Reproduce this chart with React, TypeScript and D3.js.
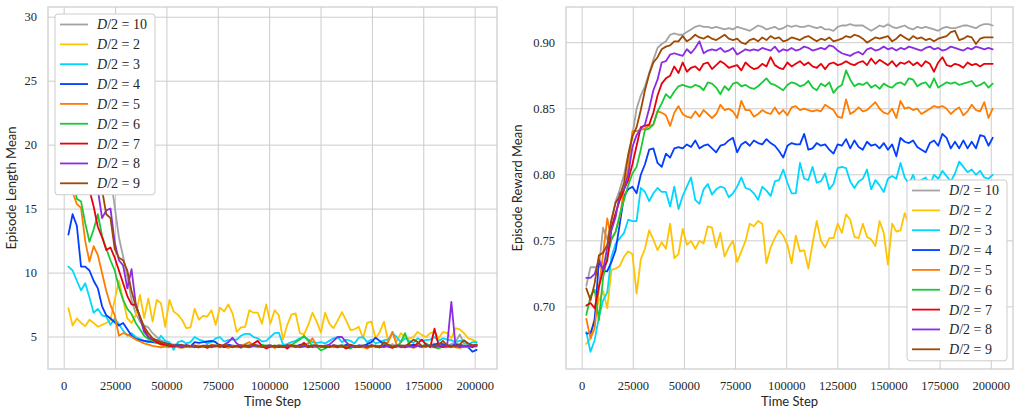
import React from 'react';
import * as d3 from 'd3';

// ---------------------------------------------------------------------------
// Data — two panels, nine series (D/2 = 10, 2..9), one point every 2048 steps
// ---------------------------------------------------------------------------

const legendLabels = ['10', '2', '3', '4', '5', '6', '7', '8', '9'];
const seriesColors = ['#a3a3a3', '#ffc400', '#00d7ff', '#023eff', '#ff7c00', '#1ac938', '#e8000b', '#8b2be2', '#9f4800'];

const timeSteps = d3.range(1, 99).map((k) => k * 2048);

const xTicks = [0, 25000, 50000, 75000, 100000, 125000, 150000, 175000, 200000];
const lengthTicks = [5, 10, 15, 20, 25, 30];
const rewardTicks = [0.7, 0.75, 0.8, 0.85, 0.9];

// Episode Length Mean
const lengthD10 = [
  29.5, 28.8, 28.0, 27.1, 26.0, 24.8, 23.5, 22.1, 20.6, 19.2,
  17.6, 15.2, 12.8, 11.3, 9.7, 7.9, 6.85, 6.2, 5.9, 5.75,
  5.3, 5.0, 4.75, 4.6, 4.5, 4.4, 4.45, 4.3, 4.35, 4.25,
  4.3, 4.2, 4.35, 4.25, 4.3, 4.4, 4.2, 4.3, 4.25, 4.35,
  4.3, 4.15, 4.3, 4.4, 4.25, 4.3, 4.2, 4.35, 4.3, 4.25,
  4.4, 4.3, 4.2, 4.3, 4.35, 4.25, 4.3, 4.2, 4.4, 4.3,
  4.25, 4.35, 4.2, 4.3, 4.3, 4.4, 4.25, 4.3, 4.2, 4.35,
  4.3, 4.25, 4.4, 4.3, 4.2, 4.35, 4.3, 4.45, 4.25, 4.3,
  4.35, 4.2, 4.3, 4.4, 4.3, 4.25, 4.35, 4.5, 4.3, 4.4,
  4.3, 4.45, 4.6, 5.2, 4.5, 4.4, 4.35, 4.4,
];
const lengthD2 = [
  7.25, 5.9, 6.45, 6.1, 5.85, 6.35, 6.1, 5.8, 5.95, 6.1,
  6.35, 7.9, 9.4, 7.9, 6.45, 6.1, 6.7, 8.3, 6.5, 8.0,
  6.2, 7.9, 7.65, 5.8, 7.9, 7.0, 6.75, 6.35, 5.7, 5.75,
  7.2, 6.35, 6.65, 6.6, 7.1, 5.95, 7.3, 7.0, 7.55, 6.85,
  5.4, 5.75, 5.8, 7.1, 6.9, 6.9, 6.05, 7.55, 6.05, 7.1,
  6.7, 4.8, 5.95, 6.75, 6.85, 5.3, 5.2, 5.95, 6.9, 6.2,
  5.35, 6.9, 6.05, 5.7, 6.3, 6.95, 6.3, 5.55, 5.6, 5.8,
  4.9, 6.1, 6.2, 4.9, 5.4, 6.2, 4.65, 5.4, 4.65, 5.3,
  5.0, 4.9, 5.0, 5.4, 5.15, 5.0, 5.3, 5.4, 4.9, 5.4,
  5.3, 4.9, 5.7, 5.6, 5.3, 4.9, 4.8, 4.6,
];
const lengthD3 = [
  10.5, 10.2, 9.4, 8.65, 9.2, 8.1, 6.9, 7.2, 6.7, 6.6,
  5.95, 6.45, 6.0, 5.5, 5.1, 5.3, 5.0, 4.85, 4.7, 4.6,
  4.75, 4.6, 5.1, 4.7, 4.6, 4.0, 4.6, 4.7, 4.5, 4.6,
  5.0, 4.8, 4.7, 4.5, 4.6, 4.9, 5.0, 4.65, 4.75, 4.8,
  4.8, 5.1, 5.25, 5.25, 5.0, 4.9, 4.65, 4.7, 5.0, 5.3,
  5.35, 4.4, 4.45, 4.6, 4.7, 4.9, 5.0, 4.8, 4.6, 4.55,
  4.6, 4.5, 4.7, 4.9, 5.0, 4.6, 4.8, 4.7, 4.5, 4.95,
  5.0, 4.6, 4.8, 4.5, 4.6, 4.75, 4.8, 5.3, 5.0, 4.6,
  4.9, 4.7, 4.55, 4.9, 4.7, 4.75, 4.8, 5.0, 4.7, 4.9,
  4.8, 4.75, 4.6, 4.7, 4.7, 4.4, 4.6, 4.6,
];
const lengthD4 = [
  13.0, 14.6, 13.7, 10.5, 10.5, 10.2, 9.4, 8.8, 7.4, 6.7,
  6.45, 6.15, 5.9, 6.1, 5.6, 5.1, 4.85, 4.75, 4.7, 4.65,
  4.6, 4.55, 4.5, 4.5, 4.45, 4.3, 4.4, 4.3, 4.35, 4.25,
  4.6, 4.55, 4.6, 4.65, 4.7, 4.6, 4.3, 4.25, 4.4, 4.3,
  4.2, 4.35, 4.3, 4.25, 4.4, 4.3, 4.2, 4.3, 4.35, 4.25,
  4.3, 4.2, 4.35, 4.3, 4.25, 4.4, 4.3, 4.2, 4.3, 4.35,
  4.25, 4.3, 4.2, 4.35, 4.3, 4.25, 4.4, 4.3, 4.2, 4.35,
  4.3, 4.45, 4.6, 4.95, 4.7, 4.4, 4.3, 4.2, 4.35, 4.3,
  4.25, 4.3, 4.4, 4.3, 4.2, 4.35, 4.3, 4.4, 4.5, 4.45,
  4.35, 4.3, 4.45, 4.4, 4.3, 4.2, 3.85, 4.0,
];
const lengthD5 = [
  18.5, 16.3, 15.4, 15.1, 12.5, 10.9, 12.1, 11.4, 10.0, 8.6,
  7.5, 6.7, 5.1, 5.3, 5.2, 5.0, 4.8, 4.65, 4.5, 4.4,
  4.3, 4.25, 4.2, 4.25, 4.2, 4.3, 4.2, 4.15, 4.25, 4.2,
  4.3, 4.35, 4.2, 4.25, 4.4, 4.3, 4.2, 4.25, 4.15, 4.3,
  4.2, 4.3, 4.45, 4.6, 4.3, 4.2, 4.25, 4.2, 4.3, 4.15,
  4.25, 4.2, 4.3, 4.4, 4.3, 4.25, 4.4, 4.5, 4.9, 4.3,
  4.25, 4.2, 4.3, 4.2, 4.25, 4.3, 4.15, 4.2, 4.3, 4.25,
  4.2, 4.1, 4.3, 4.25, 4.2, 4.5, 4.6, 5.4, 4.4, 4.3,
  4.2, 4.25, 4.15, 4.3, 4.2, 4.25, 4.3, 4.2, 4.15, 4.25,
  4.2, 4.3, 4.2, 4.15, 4.25, 4.2, 4.3, 4.25,
];
const lengthD6 = [
  20.0, 17.5, 15.8, 15.6, 13.9, 12.45, 13.4, 14.6, 12.9, 11.9,
  11.0, 10.2, 8.9, 7.9, 7.2, 6.8, 6.1, 5.6, 5.1, 4.85,
  4.7, 4.55, 4.4, 4.35, 4.3, 4.25, 4.35, 4.2, 4.3, 4.25,
  4.2, 4.3, 4.25, 4.35, 4.2, 4.3, 4.4, 4.25, 4.3, 4.2,
  4.3, 4.25, 4.35, 4.2, 4.3, 4.25, 4.4, 4.3, 4.2, 4.35,
  4.25, 4.3, 4.2, 4.35, 4.6, 4.8, 5.1, 4.7, 4.3, 4.25,
  3.95, 4.1, 4.3, 4.25, 4.2, 4.35, 4.2, 4.1, 4.3, 4.25,
  4.2, 4.3, 4.25, 4.35, 4.2, 4.3, 4.4, 4.25, 4.2, 4.6,
  5.3, 4.4, 4.2, 4.3, 4.25, 4.5, 4.3, 4.2, 4.1, 4.3,
  4.25, 4.2, 4.3, 4.25, 4.35, 4.2, 4.3, 4.4,
];
const lengthD7 = [
  24.0, 22.5, 21.0, 19.5, 18.0, 16.5, 15.2, 13.6, 12.8, 11.8,
  12.0, 11.2, 10.2, 9.2, 8.2, 7.55, 7.5, 6.6, 5.6, 5.0,
  4.8, 4.6, 4.45, 4.4, 4.3, 4.25, 4.3, 4.2, 4.35, 4.3,
  4.25, 4.2, 4.3, 4.15, 4.3, 4.25, 4.4, 4.2, 4.3, 4.25,
  4.3, 4.2, 4.35, 4.25, 4.5, 4.7, 4.3, 4.1, 4.25, 4.3,
  4.2, 4.3, 4.1, 4.35, 4.25, 4.3, 4.55, 4.2, 4.3, 4.25,
  4.3, 4.2, 4.25, 4.35, 4.2, 4.3, 4.1, 4.25, 4.3, 4.2,
  4.3, 4.2, 4.35, 4.25, 4.2, 4.3, 4.25, 4.15, 4.3, 4.25,
  4.2, 4.35, 4.3, 4.5, 4.8, 4.4, 4.2, 5.65, 4.3, 4.2,
  4.3, 4.25, 4.35, 4.3, 4.25, 4.3, 4.2, 4.35,
];
const lengthD8 = [
  26.0, 25.0, 23.5, 22.0, 20.5, 19.0, 17.5, 16.5, 14.3, 14.9,
  15.05, 12.4, 11.0, 10.6, 8.8, 10.3, 7.6, 6.5, 5.4, 5.0,
  4.85, 4.75, 4.6, 4.5, 4.4, 4.35, 4.3, 4.25, 4.35, 4.3,
  4.25, 4.2, 4.3, 4.35, 4.2, 4.3, 4.25, 4.4, 4.6, 4.95,
  4.5, 4.3, 4.25, 4.2, 4.3, 4.35, 4.25, 4.2, 4.3, 4.25,
  4.3, 4.2, 4.35, 4.25, 4.3, 4.2, 4.25, 4.35, 4.2, 4.3,
  4.25, 4.3, 4.4, 4.7, 5.0, 5.0, 4.6, 4.3, 4.2, 4.25,
  4.3, 4.2, 4.35, 4.25, 4.3, 4.2, 4.3, 4.25, 4.35, 4.2,
  4.25, 4.3, 4.2, 4.3, 4.25, 4.35, 4.3, 4.2, 4.3, 4.35,
  4.3, 7.75, 4.3, 4.2, 4.3, 4.25, 4.35, 4.3,
];
const lengthD9 = [
  27.5, 26.5, 25.5, 24.0, 22.5, 21.0, 19.5, 18.0, 16.5, 14.6,
  14.3, 11.9, 11.2, 11.0, 10.2, 8.6, 7.4, 6.6, 5.8, 5.3,
  4.9, 4.75, 4.6, 4.5, 4.4, 4.35, 4.3, 4.4, 4.25, 4.3,
  4.35, 4.2, 4.3, 4.25, 4.35, 4.3, 4.25, 4.4, 4.3, 4.2,
  4.3, 4.35, 4.25, 4.3, 4.4, 4.3, 4.25, 4.3, 4.35, 4.2,
  4.3, 4.25, 4.35, 4.3, 4.2, 4.3, 4.4, 4.25, 4.3, 4.35,
  4.25, 4.3, 4.2, 4.35, 4.3, 4.25, 4.3, 4.4, 4.3, 4.25,
  4.35, 4.3, 4.25, 4.3, 4.2, 4.6, 4.4, 4.25, 4.3, 4.35,
  4.3, 4.5, 4.8, 4.6, 4.3, 4.25, 4.35, 4.3, 4.4, 4.7,
  4.35, 4.3, 4.25, 4.4, 4.75, 4.5, 4.35, 4.4,
];

// Episode Reward Mean
const rewardD10 = [
  0.716, 0.730, 0.730, 0.730, 0.760, 0.751, 0.765, 0.780, 0.789, 0.800,
  0.815, 0.830, 0.850, 0.860, 0.867, 0.877, 0.887, 0.896, 0.899, 0.901,
  0.906, 0.907, 0.906, 0.906, 0.908, 0.910, 0.912, 0.913, 0.912, 0.912,
  0.911, 0.912, 0.911, 0.910, 0.911, 0.910, 0.912, 0.911, 0.910, 0.909,
  0.911, 0.913, 0.912, 0.910, 0.911, 0.912, 0.910, 0.911, 0.913, 0.912,
  0.913, 0.912, 0.912, 0.913, 0.912, 0.911, 0.912, 0.910, 0.910, 0.909,
  0.912, 0.913, 0.913, 0.914, 0.913, 0.913, 0.913, 0.911, 0.909, 0.911,
  0.913, 0.912, 0.914, 0.912, 0.911, 0.912, 0.913, 0.911, 0.910, 0.912,
  0.911, 0.912, 0.911, 0.910, 0.909, 0.911, 0.912, 0.911, 0.911, 0.912,
  0.913, 0.913, 0.912, 0.911, 0.913, 0.914, 0.914, 0.913,
];
const rewardD2 = [
  0.672, 0.676, 0.693, 0.705, 0.712, 0.699, 0.728, 0.729, 0.731, 0.738,
  0.742, 0.740, 0.710, 0.736, 0.744, 0.758, 0.751, 0.743, 0.749, 0.744,
  0.763, 0.737, 0.740, 0.759, 0.747, 0.750, 0.744, 0.750, 0.748, 0.761,
  0.760, 0.745, 0.756, 0.738, 0.745, 0.750, 0.734, 0.742, 0.750, 0.763,
  0.761, 0.765, 0.763, 0.733, 0.745, 0.752, 0.758, 0.754, 0.747, 0.733,
  0.754, 0.742, 0.743, 0.729, 0.748, 0.765, 0.750, 0.745, 0.752, 0.752,
  0.763, 0.756, 0.770, 0.766, 0.753, 0.752, 0.763, 0.753, 0.751, 0.746,
  0.765, 0.756, 0.732, 0.763, 0.757, 0.758, 0.771, 0.762, 0.757, 0.764,
  0.752, 0.761, 0.756, 0.768, 0.749, 0.760, 0.753, 0.762, 0.766, 0.750,
  0.758, 0.755, 0.764, 0.751, 0.760, 0.757, 0.763, 0.759,
];
const rewardD3 = [
  0.681, 0.666, 0.675, 0.692, 0.705, 0.711, 0.738, 0.748, 0.752, 0.756,
  0.766, 0.765, 0.765, 0.790, 0.787, 0.780, 0.786, 0.790, 0.787, 0.787,
  0.776, 0.791, 0.774, 0.784, 0.791, 0.798, 0.781, 0.778, 0.789, 0.793,
  0.785, 0.789, 0.791, 0.790, 0.783, 0.786, 0.791, 0.798, 0.790, 0.789,
  0.786, 0.781, 0.791, 0.788, 0.784, 0.795, 0.796, 0.804, 0.794, 0.786,
  0.786, 0.809, 0.797, 0.796, 0.806, 0.794, 0.795, 0.801, 0.789, 0.793,
  0.805, 0.806, 0.805, 0.795, 0.790, 0.795, 0.797, 0.804, 0.789, 0.796,
  0.792, 0.787, 0.797, 0.799, 0.797, 0.809, 0.798, 0.793, 0.800, 0.791,
  0.796, 0.798, 0.792, 0.800, 0.797, 0.803, 0.799, 0.795, 0.801, 0.810,
  0.806, 0.802, 0.804, 0.800, 0.803, 0.798, 0.797, 0.800,
];
const rewardD4 = [
  0.680, 0.680, 0.690, 0.735, 0.727, 0.727, 0.734, 0.743, 0.763, 0.784,
  0.789, 0.791, 0.786, 0.800, 0.808, 0.819, 0.820, 0.809, 0.806, 0.816,
  0.813, 0.820, 0.821, 0.820, 0.823, 0.821, 0.826, 0.820, 0.822, 0.823,
  0.820, 0.817, 0.822, 0.823, 0.826, 0.828, 0.817, 0.823, 0.825, 0.822,
  0.826, 0.824, 0.823, 0.827, 0.824, 0.822, 0.818, 0.813, 0.822, 0.824,
  0.823, 0.823, 0.831, 0.819, 0.820, 0.824, 0.822, 0.823, 0.819, 0.816,
  0.823, 0.822, 0.827, 0.820, 0.826, 0.821, 0.819, 0.825, 0.822, 0.823,
  0.820, 0.824, 0.819, 0.823, 0.814, 0.828, 0.825, 0.824, 0.826, 0.821,
  0.819, 0.817, 0.824, 0.826, 0.822, 0.831, 0.828, 0.820, 0.825, 0.820,
  0.826, 0.820, 0.825, 0.820, 0.830, 0.829, 0.822, 0.828,
];
const rewardD5 = [
  0.691, 0.676, 0.684, 0.715, 0.740, 0.767, 0.751, 0.757, 0.768, 0.789,
  0.805, 0.833, 0.833, 0.834, 0.835, 0.837, 0.838, 0.848, 0.847, 0.845,
  0.837, 0.847, 0.852, 0.846, 0.844, 0.843, 0.848, 0.844, 0.849, 0.846,
  0.843, 0.846, 0.853, 0.849, 0.850, 0.848, 0.843, 0.856, 0.849, 0.849,
  0.844, 0.846, 0.849, 0.847, 0.846, 0.851, 0.846, 0.849, 0.845, 0.851,
  0.852, 0.849, 0.850, 0.849, 0.848, 0.849, 0.848, 0.853, 0.851, 0.849,
  0.844, 0.843, 0.857, 0.846, 0.848, 0.851, 0.848, 0.849, 0.852, 0.855,
  0.850, 0.847, 0.846, 0.850, 0.843, 0.856, 0.850, 0.851, 0.849, 0.850,
  0.846, 0.848, 0.850, 0.852, 0.851, 0.852, 0.850, 0.846, 0.849, 0.851,
  0.845, 0.848, 0.853, 0.849, 0.848, 0.855, 0.843, 0.850,
];
const rewardD6 = [
  0.694, 0.708, 0.713, 0.690, 0.722, 0.738, 0.751, 0.757, 0.770, 0.781,
  0.792, 0.801, 0.806, 0.819, 0.834, 0.835, 0.838, 0.848, 0.854, 0.861,
  0.858, 0.863, 0.867, 0.868, 0.867, 0.866, 0.868, 0.867, 0.864, 0.870,
  0.869, 0.866, 0.861, 0.867, 0.864, 0.869, 0.870, 0.867, 0.868, 0.866,
  0.865, 0.867, 0.870, 0.873, 0.869, 0.868, 0.866, 0.864, 0.868, 0.870,
  0.869, 0.867, 0.868, 0.871, 0.866, 0.864, 0.869, 0.867, 0.870, 0.862,
  0.866, 0.868, 0.879, 0.872, 0.867, 0.869, 0.868, 0.870, 0.866, 0.868,
  0.865, 0.869, 0.867, 0.866, 0.869, 0.870, 0.868, 0.873, 0.872, 0.867,
  0.869, 0.870, 0.866, 0.873, 0.866, 0.868, 0.870, 0.869, 0.870, 0.868,
  0.869, 0.870, 0.871, 0.867, 0.868, 0.870, 0.866, 0.869,
];
const rewardD7 = [
  0.701, 0.703, 0.699, 0.715, 0.728, 0.735, 0.760, 0.771, 0.781, 0.789,
  0.796, 0.808, 0.822, 0.836, 0.837, 0.838, 0.847, 0.860, 0.869, 0.873,
  0.875, 0.882, 0.877, 0.885, 0.878, 0.881, 0.882, 0.879, 0.884, 0.885,
  0.880, 0.883, 0.886, 0.884, 0.881, 0.882, 0.883, 0.879, 0.885, 0.882,
  0.880, 0.881, 0.884, 0.882, 0.889, 0.883, 0.881, 0.880, 0.885, 0.882,
  0.884, 0.886, 0.883, 0.885, 0.882, 0.881, 0.884, 0.880, 0.884, 0.885,
  0.883, 0.884, 0.886, 0.884, 0.883, 0.885, 0.886, 0.883, 0.888, 0.884,
  0.887, 0.885, 0.883, 0.886, 0.882, 0.885, 0.884, 0.886, 0.883, 0.885,
  0.882, 0.886, 0.884, 0.878, 0.885, 0.889, 0.883, 0.882, 0.884, 0.883,
  0.881, 0.885, 0.883, 0.884, 0.882, 0.884, 0.884, 0.884,
];
const rewardD8 = [
  0.722, 0.722, 0.725, 0.736, 0.728, 0.745, 0.758, 0.768, 0.786, 0.789,
  0.800, 0.821, 0.830, 0.835, 0.838, 0.850, 0.864, 0.872, 0.885, 0.886,
  0.891, 0.892, 0.891, 0.890, 0.895, 0.892, 0.896, 0.901, 0.892, 0.894,
  0.895, 0.894, 0.896, 0.893, 0.894, 0.896, 0.891, 0.893, 0.895, 0.894,
  0.895, 0.894, 0.896, 0.895, 0.894, 0.897, 0.893, 0.895, 0.894, 0.896,
  0.894, 0.895, 0.897, 0.896, 0.894, 0.895, 0.896, 0.895, 0.898, 0.897,
  0.894, 0.892, 0.891, 0.890, 0.892, 0.893, 0.891, 0.895, 0.896, 0.894,
  0.895, 0.897, 0.895, 0.896, 0.894, 0.896, 0.895, 0.897, 0.896, 0.895,
  0.894, 0.896, 0.897, 0.895, 0.896, 0.894, 0.895, 0.897, 0.896, 0.895,
  0.894, 0.896, 0.895, 0.897, 0.896, 0.895, 0.896, 0.895,
];
const rewardD9 = [
  0.714, 0.705, 0.718, 0.739, 0.741, 0.747, 0.766, 0.779, 0.784, 0.794,
  0.815, 0.829, 0.836, 0.849, 0.864, 0.876, 0.885, 0.889, 0.895, 0.897,
  0.898, 0.901, 0.901, 0.905, 0.901, 0.903, 0.906, 0.904, 0.903, 0.905,
  0.903, 0.902, 0.904, 0.906, 0.903, 0.902, 0.903, 0.900, 0.899, 0.902,
  0.903, 0.901, 0.904, 0.902, 0.905, 0.903, 0.904, 0.901, 0.902, 0.904,
  0.903, 0.902, 0.904, 0.905, 0.903, 0.901, 0.903, 0.902, 0.904, 0.901,
  0.902, 0.903, 0.905, 0.904, 0.906, 0.905, 0.903, 0.900, 0.902, 0.904,
  0.903, 0.904, 0.905, 0.901, 0.903, 0.906, 0.904, 0.902, 0.905, 0.903,
  0.904, 0.902, 0.903, 0.901, 0.903, 0.904, 0.905, 0.908, 0.909, 0.902,
  0.903, 0.905, 0.904, 0.899, 0.903, 0.904, 0.904, 0.904,
];

const lengthSeries = [lengthD10, lengthD2, lengthD3, lengthD4, lengthD5, lengthD6, lengthD7, lengthD8, lengthD9];
const rewardSeries = [rewardD10, rewardD2, rewardD3, rewardD4, rewardD5, rewardD6, rewardD7, rewardD8, rewardD9];

// ---------------------------------------------------------------------------

const TEXT = '#262626';
const GRID = '#cccccc';
const SERIF = "'Liberation Serif', 'DejaVu Serif', serif";
const SANS = "Lato, 'DejaVu Sans', sans-serif";

interface PanelProps {
  left: number;
  right: number;
  top: number;
  bottom: number;
  yDomain: [number, number];
  yTicks: number[];
  yFormat: (v: number) => string;
  series: number[][];
  yLabel: string;
  yLabelX: number;
  legendX: number;
  legendY: number;
}

function Panel({ left, right, top, bottom, yDomain, yTicks, yFormat, series, yLabel, yLabelX, legendX, legendY }: PanelProps) {
  const x = d3.scaleLinear().domain([-7885, 210637]).range([left, right]);
  const y = d3.scaleLinear().domain(yDomain).range([bottom, top]);
  const line = d3
    .line<number>()
    .x((_, i) => x(timeSteps[i]))
    .y((d) => y(d));

  const legendW = 100;
  const rowH = 19.85;
  const legendH = 10.5 * 2 + rowH * (legendLabels.length - 1) + 1;

  return (
    <g>
      {/* grid */}
      {xTicks.map((t) => (
        <line key={`gx${t}`} x1={x(t)} x2={x(t)} y1={top} y2={bottom} stroke={GRID} strokeWidth={1} />
      ))}
      {yTicks.map((t) => (
        <line key={`gy${t}`} x1={left} x2={right} y1={y(t)} y2={y(t)} stroke={GRID} strokeWidth={1} />
      ))}

      {/* series */}
      {series.map((s, i) => (
        <path
          key={`s${i}`}
          d={line(s) || ''}
          fill="none"
          stroke={seriesColors[i]}
          strokeWidth={1.8}
          strokeLinejoin="round"
          strokeLinecap="round"
        />
      ))}

      {/* frame */}
      <rect x={left} y={top} width={right - left} height={bottom - top} fill="none" stroke={GRID} strokeWidth={1.25} />

      {/* tick labels */}
      {xTicks.map((t) => (
        <text key={`tx${t}`} x={x(t)} y={390} textAnchor="middle" fontFamily={SERIF} fontSize={12.5} fill={TEXT}>
          {t}
        </text>
      ))}
      {yTicks.map((t) => (
        <text
          key={`ty${t}`}
          x={left - 11}
          y={y(t)}
          dy="0.33em"
          textAnchor="end"
          fontFamily={SERIF}
          fontSize={12.5}
          fill={TEXT}
        >
          {yFormat(t)}
        </text>
      ))}

      {/* axis labels */}
      <text x={(left + right) / 2} y={406} textAnchor="middle" fontFamily={SANS} fontSize={13} fill={TEXT}>
        Time Step
      </text>
      <text
        transform={`translate(${yLabelX},${(top + bottom) / 2}) rotate(-90)`}
        textAnchor="middle"
        fontFamily={SANS}
        fontSize={13}
        fill={TEXT}
      >
        {yLabel}
      </text>

      {/* legend */}
      <g transform={`translate(${legendX},${legendY})`}>
        <rect x={0} y={0} width={legendW} height={legendH} rx={3} fill="#ffffff" stroke={GRID} strokeWidth={1} />
        {legendLabels.map((lab, i) => {
          const ry = 10.5 + i * rowH;
          return (
            <g key={`l${lab}`}>
              <line x1={5} x2={33} y1={ry} y2={ry} stroke={seriesColors[i]} strokeWidth={1.8} />
              <text x={42} y={ry} dy="0.35em" fontFamily={SERIF} fontSize={14} fill={TEXT}>
                <tspan fontStyle="italic">D</tspan>
                {'/2'}
                <tspan dx={3.5}>=</tspan>
                <tspan dx={3.5}>{lab}</tspan>
              </text>
            </g>
          );
        })}
      </g>
    </g>
  );
}

export default function App() {
  return (
    <div style={{ position: 'absolute', left: 0, top: 0, width: 1021, height: 416, background: '#ffffff' }}>
      <svg width={1021} height={416} viewBox="0 0 1021 416">
        <rect x={0} y={0} width={1021} height={416} fill="#ffffff" />
        <Panel
          left={48}
          right={497}
          top={7}
          bottom={369}
          yDomain={[2.5, 30.8]}
          yTicks={lengthTicks}
          yFormat={(v) => String(v)}
          series={lengthSeries}
          yLabel="Episode Length Mean"
          yLabelX={16}
          legendX={55}
          legendY={14}
        />
        <Panel
          left={566}
          right={1013}
          top={7}
          bottom={369}
          yDomain={[0.653, 0.927]}
          yTicks={rewardTicks}
          yFormat={(v) => v.toFixed(2)}
          series={rewardSeries}
          yLabel="Episode Reward Mean"
          yLabelX={522}
          legendX={907}
          legendY={180}
        />
      </svg>
    </div>
  );
}
